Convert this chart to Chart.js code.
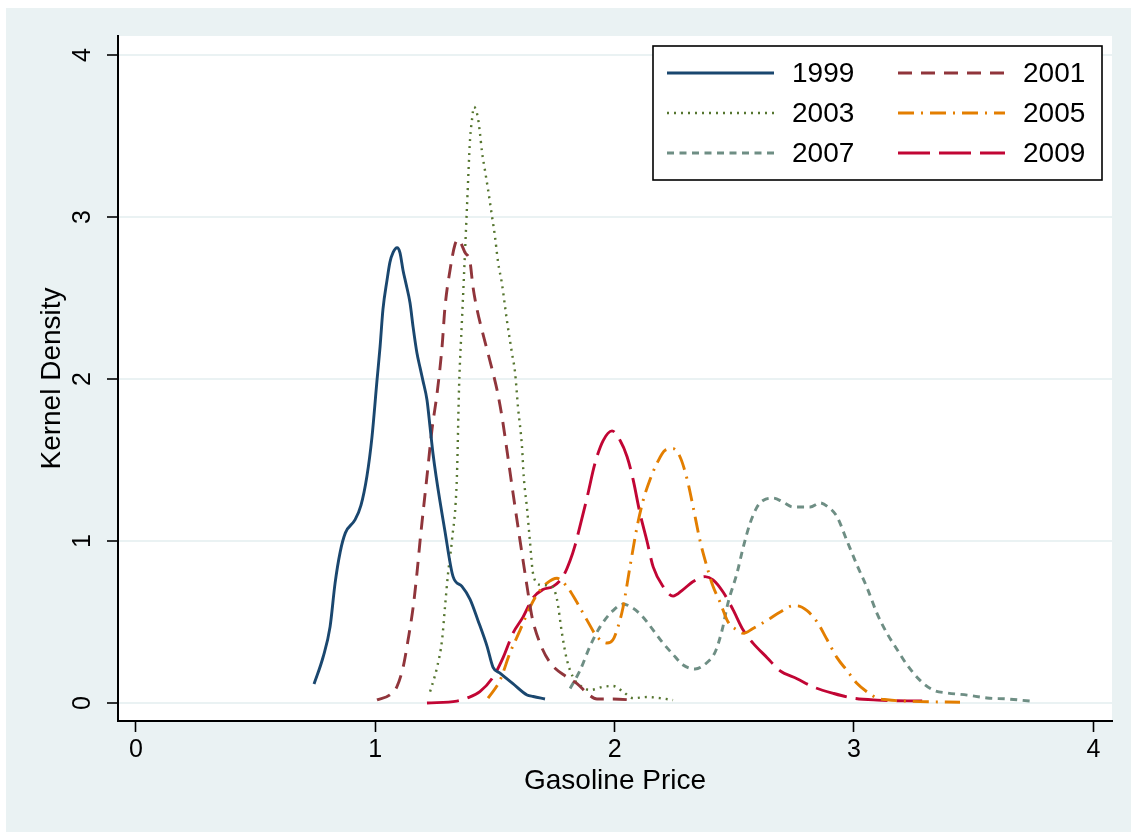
<!DOCTYPE html>
<html>
<head>
<meta charset="utf-8">
<script src="https://cdn.jsdelivr.net/npm/chart.js@4"></script>
<style>
  html, body { margin: 0; padding: 0; background: #ffffff; }
  #wrap { position: relative; width: 1135px; height: 832px; overflow: hidden; }
  #bg { position: absolute; left: 6px; top: 8px; width: 1125px; height: 824px; background: #eaf2f3; }
  #c { position: absolute; left: 0; top: 0; }
</style>
</head>
<body>
<div id="wrap"><div id="bg"></div><canvas id="c" width="1135" height="832"></canvas></div>
<script>
// ---------------- DATA ----------------
const xTitle = 'Gasoline Price';
const yTitle = 'Kernel Density';
const xTickValues = [0, 1, 2, 3, 4];
const xTickLabels = ['0', '1', '2', '3', '4'];
const yTickValues = [0, 1, 2, 3, 4];
const yTickLabels = ['0', '1', '2', '3', '4'];
const seriesLabels = ['1999', '2001', '2003', '2005', '2007', '2009'];

const x1999 = [0.744, 0.782, 0.811, 0.832, 0.853, 0.875, 0.915, 0.94, 0.965, 0.986, 1.007, 1.02, 1.032, 1.049, 1.061, 1.074, 1.091, 1.103, 1.116, 1.128, 1.145, 1.158, 1.174, 1.187, 1.199, 1.216, 1.229, 1.241, 1.254, 1.29, 1.325, 1.362, 1.396, 1.429, 1.467, 1.492, 1.521, 1.575, 1.634, 1.66, 1.709];
const y1999 = [0.117, 0.284, 0.47, 0.74, 0.93, 1.05, 1.13, 1.22, 1.40, 1.64, 1.99, 2.2, 2.43, 2.61, 2.72, 2.78, 2.81, 2.78, 2.67, 2.59, 2.47, 2.32, 2.16, 2.07, 1.99, 1.87, 1.70, 1.54, 1.40, 1.07, 0.78, 0.72, 0.64, 0.51, 0.35, 0.22, 0.185, 0.12, 0.05, 0.04, 0.025];

const x2001 = [1.007, 1.061, 1.09, 1.116, 1.137, 1.158, 1.174, 1.187, 1.216, 1.237, 1.258, 1.279, 1.291, 1.312, 1.333, 1.346, 1.375, 1.396, 1.408, 1.425, 1.446, 1.467, 1.488, 1.509, 1.529, 1.55, 1.575, 1.605, 1.634, 1.655, 1.688, 1.73, 1.80, 1.843, 1.885, 1.926, 1.993, 2.085];
const y2001 = [0.019, 0.05, 0.1, 0.22, 0.39, 0.59, 0.80, 1.0, 1.40, 1.69, 1.91, 2.2, 2.44, 2.67, 2.83, 2.86, 2.78, 2.72, 2.57, 2.43, 2.30, 2.18, 2.06, 1.93, 1.77, 1.56, 1.30, 1.0, 0.72, 0.53, 0.37, 0.25, 0.16, 0.12, 0.06, 0.025, 0.025, 0.018];

const x2003 = [1.229, 1.258, 1.279, 1.291, 1.304, 1.32, 1.341, 1.35, 1.362, 1.370, 1.383, 1.396, 1.404, 1.412, 1.429, 1.437, 1.446, 1.458, 1.471, 1.488, 1.50, 1.513, 1.529, 1.55, 1.571, 1.584, 1.596, 1.613, 1.62, 1.634, 1.646, 1.659, 1.688, 1.738, 1.759, 1.78, 1.80, 1.826, 1.855, 1.897, 1.952, 1.993, 2.035, 2.077, 2.135, 2.19, 2.244];
const y2003 = [0.07, 0.22, 0.39, 0.59, 0.80, 1.0, 1.40, 1.95, 2.36, 2.62, 3.06, 3.48, 3.6, 3.68, 3.61, 3.52, 3.40, 3.29, 3.17, 3.0, 2.88, 2.72, 2.59, 2.36, 2.16, 2.04, 1.83, 1.58, 1.40, 1.20, 1.0, 0.80, 0.73, 0.72, 0.64, 0.43, 0.27, 0.16, 0.11, 0.08, 0.10, 0.105, 0.07, 0.03, 0.037, 0.03, 0.018];

const x2005 = [1.471, 1.521, 1.563, 1.605, 1.646, 1.68, 1.717, 1.759, 1.80, 1.843, 1.885, 1.926, 1.968, 1.993, 2.014, 2.035, 2.064, 2.094, 2.119, 2.148, 2.177, 2.211, 2.244, 2.273, 2.303, 2.328, 2.357, 2.386, 2.411, 2.441, 2.474, 2.511, 2.537, 2.578, 2.637, 2.69, 2.745, 2.762, 2.804, 2.846, 2.888, 2.929, 2.971, 3.013, 3.055, 3.097, 3.138, 3.247, 3.443];
const y2005 = [0.03, 0.14, 0.31, 0.45, 0.59, 0.68, 0.74, 0.77, 0.72, 0.62, 0.51, 0.41, 0.37, 0.39, 0.47, 0.59, 0.84, 1.09, 1.25, 1.38, 1.48, 1.56, 1.57, 1.52, 1.38, 1.21, 1.0, 0.84, 0.72, 0.62, 0.50, 0.45, 0.43, 0.46, 0.51, 0.56, 0.60, 0.60, 0.57, 0.50, 0.39, 0.28, 0.20, 0.12, 0.068, 0.03, 0.02, 0.01, 0.005];

const x2007 = [1.814, 1.855, 1.897, 1.939, 1.993, 2.035, 2.077, 2.119, 2.161, 2.202, 2.244, 2.286, 2.336, 2.386, 2.42, 2.449, 2.474, 2.511, 2.537, 2.566, 2.595, 2.62, 2.662, 2.704, 2.745, 2.817, 2.858, 2.892, 2.929, 2.971, 3.013, 3.055, 3.097, 3.138, 3.18, 3.222, 3.276, 3.331, 3.39, 3.473, 3.556, 3.64, 3.736];
const y2007 = [0.09, 0.20, 0.35, 0.47, 0.57, 0.61, 0.585, 0.53, 0.45, 0.37, 0.30, 0.235, 0.21, 0.25, 0.315, 0.45, 0.62, 0.80, 0.96, 1.11, 1.21, 1.25, 1.265, 1.24, 1.21, 1.21, 1.235, 1.21, 1.15, 1.0, 0.85, 0.71, 0.55, 0.43, 0.33, 0.235, 0.14, 0.08, 0.062, 0.049, 0.031, 0.025, 0.012];

const x2009 = [1.216, 1.341, 1.383, 1.437, 1.492, 1.534, 1.575, 1.617, 1.659, 1.70, 1.743, 1.784, 1.814, 1.835, 1.855, 1.885, 1.918, 1.952, 1.989, 2.023, 2.052, 2.077, 2.106, 2.135, 2.161, 2.202, 2.244, 2.286, 2.328, 2.378, 2.411, 2.453, 2.495, 2.537, 2.578, 2.637, 2.69, 2.762, 2.829, 2.913, 2.996, 3.097, 3.285];
const y2009 = [0.0, 0.012, 0.03, 0.07, 0.16, 0.28, 0.43, 0.53, 0.65, 0.70, 0.72, 0.78, 0.88, 0.975, 1.09, 1.27, 1.48, 1.62, 1.68, 1.62, 1.52, 1.38, 1.17, 1.0, 0.84, 0.72, 0.66, 0.70, 0.75, 0.78, 0.76, 0.685, 0.575, 0.45, 0.37, 0.28, 0.20, 0.15, 0.10, 0.06, 0.03, 0.018, 0.012];

const seriesX = [x1999, x2001, x2003, x2005, x2007, x2009];
const seriesY = [y1999, y2001, y2003, y2005, y2007, y2009];

// ---------------- STYLE ----------------
const seriesColors = ['#1a476f', '#90353b', '#55752f', '#e37e00', '#6e8e84', '#c10534'];
const seriesDash = [[], [14, 9], [2, 5], [16, 7, 2, 7], [7, 5.5], [32, 9]];
const seriesWidth = [2.9, 2.9, 2.4, 2.9, 2.9, 2.9];
const FONT = '"Liberation Sans", Arial, Helvetica, sans-serif';
const AREA = { left: 118, top: 36, right: 1112, bottom: 721 };

const datasets = seriesLabels.map((lab, i) => ({
  label: lab,
  data: seriesX[i].map((x, j) => ({ x: x, y: seriesY[i][j] })),
  borderColor: seriesColors[i],
  backgroundColor: seriesColors[i],
  borderWidth: seriesWidth[i],
  borderDash: seriesDash[i],
  borderCapStyle: 'butt',
  pointRadius: 0,
  fill: false,
  showLine: true,
  cubicInterpolationMode: 'monotone'
}));

const bgPlugin = {
  id: 'bgPlugin',
  beforeDraw(chart) {
    const ctx = chart.ctx, a = chart.chartArea;
    ctx.save();
    ctx.fillStyle = '#ffffff';
    ctx.fillRect(a.left, a.top, a.right - a.left, a.bottom - a.top);
    ctx.restore();
  }
};

const textPlugin = {
  id: 'textPlugin',
  afterDraw(chart) {
    const ctx = chart.ctx, a = chart.chartArea;
    const xs = chart.scales.x, ys = chart.scales.y;
    ctx.save();
    ctx.fillStyle = '#000000';
    // x tick labels
    ctx.font = '25px ' + FONT;
    ctx.textAlign = 'center';
    ctx.textBaseline = 'middle';
    xTickValues.forEach((v, i) => {
      ctx.fillText(xTickLabels[i], xs.getPixelForValue(v), 750);
    });
    // y tick labels (rotated)
    yTickValues.forEach((v, i) => {
      ctx.save();
      ctx.translate(83, ys.getPixelForValue(v));
      ctx.rotate(-Math.PI / 2);
      ctx.fillText(yTickLabels[i], 0, 0);
      ctx.restore();
    });
    // axis titles
    ctx.font = '28px ' + FONT;
    ctx.fillText(xTitle, (a.left + a.right) / 2, 781);
    ctx.save();
    ctx.translate(52, (a.top + a.bottom) / 2);
    ctx.rotate(-Math.PI / 2);
    ctx.fillText(yTitle, 0, 0);
    ctx.restore();

    // legend
    const L = { x: 653, y: 46, w: 449, h: 134 };
    ctx.fillStyle = '#ffffff';
    ctx.fillRect(L.x, L.y, L.w, L.h);
    ctx.strokeStyle = '#000000';
    ctx.lineWidth = 1.6;
    ctx.setLineDash([]);
    ctx.strokeRect(L.x, L.y, L.w, L.h);
    const colLineX = [667, 898], colLineW = 107, colTextX = [792, 1023];
    const rowY = [73, 113, 153];
    chart.data.datasets.forEach((ds, i) => {
      const col = i % 2, row = Math.floor(i / 2);
      const y = rowY[row];
      ctx.save();
      ctx.strokeStyle = ds.borderColor;
      ctx.lineWidth = ds.borderWidth;
      ctx.setLineDash(ds.borderDash);
      ctx.lineCap = 'butt';
      ctx.beginPath();
      ctx.moveTo(colLineX[col], y);
      ctx.lineTo(colLineX[col] + colLineW, y);
      ctx.stroke();
      ctx.restore();
      ctx.fillStyle = '#000000';
      ctx.font = '28px ' + FONT;
      ctx.textAlign = 'left';
      ctx.textBaseline = 'middle';
      ctx.fillText(ds.label, colTextX[col], y + 1);
    });
    ctx.restore();
  }
};

new Chart(document.getElementById('c'), {
  type: 'scatter',
  data: { datasets: datasets },
  options: {
    responsive: false,
    animation: false,
    devicePixelRatio: 1,
    layout: { padding: { left: 0, top: AREA.top, right: 1135 - AREA.right, bottom: 0 } },
    plugins: { legend: { display: false }, tooltip: { enabled: false } },
    scales: {
      x: {
        type: 'linear',
        min: -0.075, max: 4.078,
        afterBuildTicks: s => { s.ticks = xTickValues.map(v => ({ value: v })); },
        afterFit: s => { s.height = 832 - AREA.bottom; },
        ticks: { display: false },
        grid: { drawOnChartArea: false, drawTicks: true, tickLength: 11, tickColor: '#000000', tickWidth: 1.6 },
        border: { display: true, color: '#000000', width: 2 }
      },
      y: {
        type: 'linear',
        min: -0.111, max: 4.117,
        afterBuildTicks: s => { s.ticks = yTickValues.map(v => ({ value: v })); },
        afterFit: s => { s.width = AREA.left; },
        ticks: { display: false },
        grid: { drawOnChartArea: true, color: '#eaf2f3', lineWidth: 2, drawTicks: true, tickLength: 11, tickColor: '#000000', tickWidth: 1.6 },
        border: { display: true, color: '#000000', width: 2 }
      }
    }
  },
  plugins: [bgPlugin, textPlugin]
});
</script>
</body>
</html>
